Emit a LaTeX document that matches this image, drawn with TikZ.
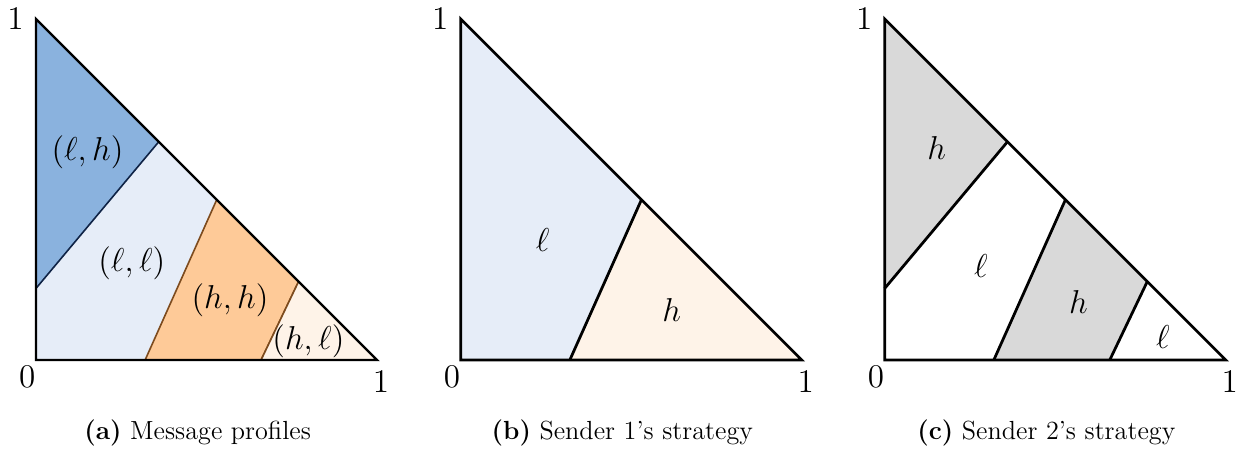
\documentclass[tikz,border=0pt]{standalone}
\usepackage{amsmath,amssymb}
\usepackage{tikz}
\usetikzlibrary{positioning,calc}
\definecolor{lhcolor}{RGB}{138,178,222}
\definecolor{llcolor}{RGB}{230,237,248}
\definecolor{hhcolor}{RGB}{254,202,152}
\definecolor{hlcolor}{RGB}{254,243,232}
\definecolor{lhedge}{RGB}{15,35,70}
\definecolor{hhedge}{RGB}{125,75,30}
\definecolor{shadecolor}{RGB}{217,217,217}
\tikzset{
  edgeln/.style={line width=1pt},
  cutln/.style={line width=1.2pt},
  thinln/.style={line width=0.7pt},
  ticklbl/.style={font=\fontsize{14}{16}\selectfont, inner sep=0pt},
  regionlbl/.style={font=\fontsize{14}{16}\selectfont, inner sep=0pt},
  captionlbl/.style={font=\fontsize{11.4}{13}\selectfont, anchor=base, inner sep=0pt},
}
\newcommand{\cornerlbls}[1]{%
  \node[ticklbl] (#1top) at (-0.06,1.0) {$1$};
  \node[ticklbl] (#1zero) at (-0.026,-0.048) {$0$};
  \node[ticklbl] (#1one) at (1.012,-0.065) {$1$};
}

\begin{document}
\begin{tikzpicture}[x=5.214cm, y=5.214cm]
  \useasboundingbox (-0.1056,-0.261) rectangle (3.5308,1.0557);
  % (a) message profiles
  \begin{scope}
    \fill[llcolor] (0,0) -- (0,1) -- (1,0) -- cycle;
    \filldraw[fill=lhcolor, draw=lhedge, thinln]
      (0,0.21) -- (0,1) -- (0.36,0.64) -- cycle;
    \filldraw[fill=hhcolor, draw=hhedge, thinln]
      (0.32,0) -- (0.53,0.47) -- (0.77,0.23) -- (0.66,0) -- cycle;
    \filldraw[fill=hlcolor, draw=hhedge, thinln]
      (0.66,0) -- (0.77,0.23) -- (1,0) -- cycle;
    \draw[edgeln] (0,1) -- (0,0) -- (1,0) -- cycle;
    \cornerlbls{a}
    \node[regionlbl] (lh) at (0.151,0.61) {$(\ell,h)$};
    \node[regionlbl] (ll) at (0.281,0.284) {$(\ell,\ell)$};
    \node[regionlbl] (hh) at (0.569,0.176) {$(h,h)$};
    \node[regionlbl] (hl) at (0.799,0.054) {$(h,\ell)$};
    \node[captionlbl] (capa) at (0.474,-0.232) {\textbf{(a)} Message profiles};
  \end{scope}
  % (b) sender 1
  \begin{scope}[shift={(1.2455,0)}]
    \fill[llcolor] (0,0) -- (0,1) -- (0.53,0.47) -- (0.32,0) -- cycle;
    \fill[hlcolor] (0.32,0) -- (0.53,0.47) -- (1,0) -- cycle;
    \draw[cutln] (0.32,0) -- (0.53,0.47);
    \draw[cutln] (0,1) -- (0,0) -- (1,0) -- cycle;
    \cornerlbls{b}
    \node[regionlbl] (bl) at (0.24,0.352) {$\ell$};
    \node[regionlbl] (bh) at (0.619,0.147) {$h$};
    \node[captionlbl] (capb) at (0.474,-0.232) {\textbf{(b)} Sender 1's strategy};
  \end{scope}
  % (c) sender 2
  \begin{scope}[shift={(2.4889,0)}]
    \fill[shadecolor] (0,0.21) -- (0,1) -- (0.36,0.64) -- cycle;
    \fill[shadecolor] (0.32,0) -- (0.53,0.47) -- (0.77,0.23) -- (0.66,0) -- cycle;
    \draw[cutln] (0,0.21) -- (0.36,0.64);
    \draw[cutln] (0.32,0) -- (0.53,0.47);
    \draw[cutln] (0.66,0) -- (0.77,0.23);
    \draw[cutln] (0,1) -- (0,0) -- (1,0) -- cycle;
    \cornerlbls{c}
    \node[regionlbl] (ch1) at (0.1525,0.622) {$h$};
    \node[regionlbl] (cl1) at (0.282,0.276) {$\ell$};
    \node[regionlbl] (ch2) at (0.568,0.169) {$h$};
    \node[regionlbl] (cl2) at (0.816,0.066) {$\ell$};
    \node[captionlbl] (capc) at (0.474,-0.232) {\textbf{(c)} Sender 2's strategy};
  \end{scope}
\end{tikzpicture}
\end{document}
